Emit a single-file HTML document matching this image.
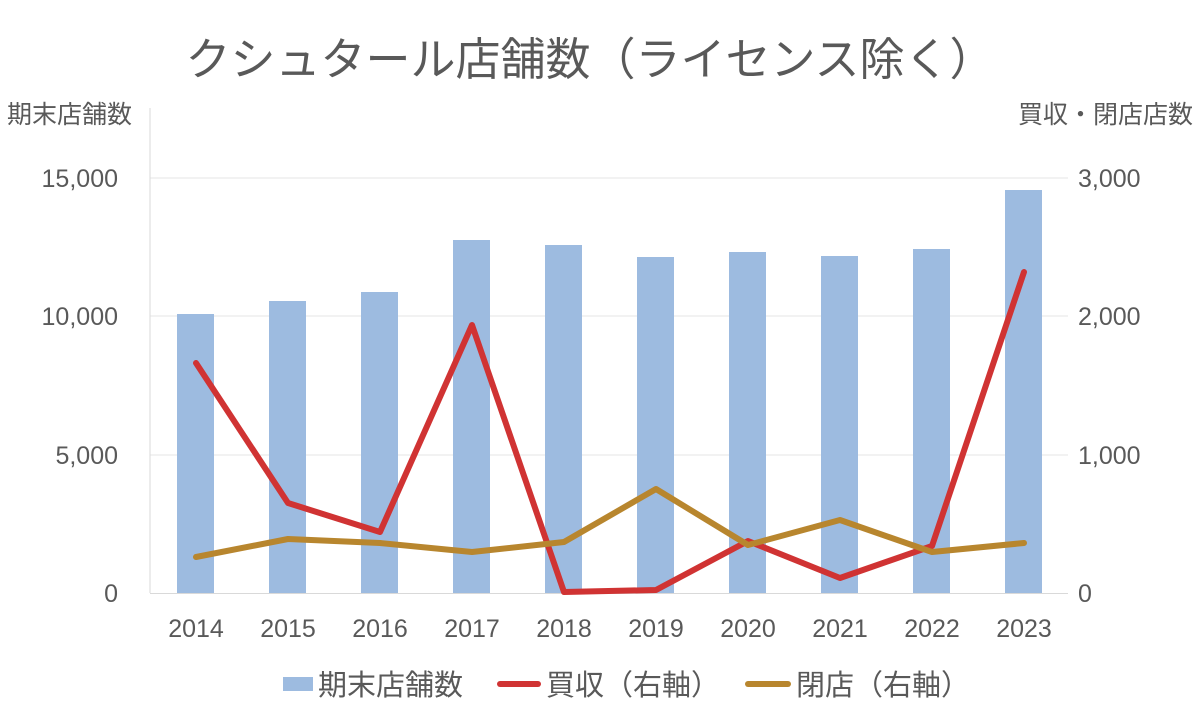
<!DOCTYPE html>
<html><head><meta charset="utf-8"><style>
body{margin:0;background:#fff;}
svg text{font-family:"Liberation Sans","Noto Sans CJK JP",sans-serif;fill:#595959;}
</style></head><body>
<svg width="1200" height="715" viewBox="0 0 1200 715" xmlns="http://www.w3.org/2000/svg">
<text x="590" y="75" font-size="45" text-anchor="middle">クシュタール店舗数（ライセンス除く）</text>
<text x="7" y="123" font-size="25">期末店舗数</text>
<text x="1193" y="123" font-size="25" text-anchor="end">買収・閉店店数</text>
<g stroke="#e6e6e6" stroke-width="1">
<line x1="150" y1="178" x2="1068" y2="178"/>
<line x1="150" y1="316" x2="1068" y2="316"/>
<line x1="150" y1="455" x2="1068" y2="455"/>
</g>
<line x1="150" y1="108" x2="150" y2="593" stroke="#d9d9d9"/>
<line x1="150" y1="593.5" x2="1068" y2="593.5" stroke="#d9d9d9"/>
<g font-size="25" text-anchor="end">
<text x="118" y="187">15,000</text><text x="118" y="325">10,000</text>
<text x="118" y="464">5,000</text><text x="118" y="602">0</text>
</g>
<g font-size="25">
<text x="1078" y="187">3,000</text><text x="1078" y="325">2,000</text>
<text x="1078" y="464">1,000</text><text x="1078" y="602">0</text>
</g>
<g fill="#9dbbe0">
<rect x="177" y="314" width="37" height="279"/>
<rect x="269" y="301" width="37" height="292"/>
<rect x="361" y="292" width="37" height="301"/>
<rect x="453" y="240" width="37" height="353"/>
<rect x="545" y="245" width="37" height="348"/>
<rect x="637" y="257" width="37" height="336"/>
<rect x="729" y="252" width="37" height="341"/>
<rect x="821" y="256" width="37" height="337"/>
<rect x="913" y="249" width="37" height="344"/>
<rect x="1005" y="190" width="37" height="403"/>
</g>
<polyline fill="none" stroke="#d03333" stroke-width="6" stroke-linejoin="round" stroke-linecap="round" points="196,363 288,503 380,532 472,325 564,592 656,590 748,541 840,578 932,546 1024,272"/>
<polyline fill="none" stroke="#b8862e" stroke-width="6" stroke-linejoin="round" stroke-linecap="round" points="196,557 288,539 380,543 472,552 564,542 656,489 748,545 840,520 932,552 1024,543"/>
<g font-size="25" text-anchor="middle">
<text x="196" y="637">2014</text><text x="288" y="637">2015</text><text x="380" y="637">2016</text>
<text x="472" y="637">2017</text><text x="564" y="637">2018</text><text x="656" y="637">2019</text>
<text x="748" y="637">2020</text><text x="840" y="637">2021</text><text x="932" y="637">2022</text>
<text x="1024" y="637">2023</text>
</g>
<rect x="283" y="677" width="30" height="14" fill="#9dbbe0"/>
<text x="318" y="695" font-size="29">期末店舗数</text>
<line x1="500" y1="684" x2="538" y2="684" stroke="#d03333" stroke-width="6" stroke-linecap="round"/>
<text x="546" y="695" font-size="29">買収（右軸）</text>
<line x1="748" y1="684" x2="788" y2="684" stroke="#b8862e" stroke-width="6" stroke-linecap="round"/>
<text x="796" y="695" font-size="29">閉店（右軸）</text>
</svg>
</body></html>
